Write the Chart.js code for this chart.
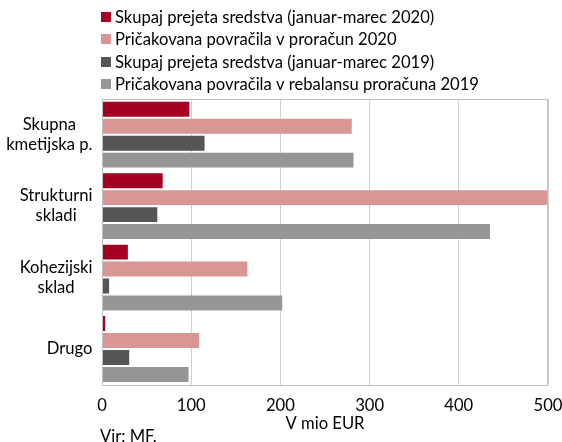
<!DOCTYPE html>
<html>
<head>
<meta charset="utf-8">
<script src="https://cdn.jsdelivr.net/npm/chart.js@4"></script>
<style>
  html, body { margin: 0; padding: 0; background: #ffffff; }
  #wrap { width: 562px; height: 442px; position: relative; }
</style>
</head>
<body>
<div id="wrap"><canvas id="c" width="562" height="442"></canvas></div>
<script>
const categories = [["Skupna", "kmetijska p."], ["Strukturni", "skladi"], ["Kohezijski", "sklad"], ["Drugo"]];
const seriesNames = [
  "Skupaj prejeta sredstva (januar-marec 2020)",
  "Pričakovana povračila v proračun 2020",
  "Skupaj prejeta sredstva (januar-marec 2019)",
  "Pričakovana povračila v rebalansu proračuna 2019"
];
const received2020 = [98, 68, 29, 3.6];
const expected2020 = [280, 500, 163, 109];
const received2019 = [115, 62, 8, 30.5];
const expected2019 = [282, 435, 202, 97];
const xMin = 0, xMax = 500, xStep = 100;
const axisTitle = "V mio EUR";
const sourceNote = "Vir: MF.";

const colors = ["#a50021", "#da9694", "#555555", "#969696"];
const FONT = "Lato, 'Liberation Sans', sans-serif";
const FS = 16.6;

const boxPlugin = {
  id: 'plotBox',
  afterDraw(chart) {
    const {ctx, chartArea: a} = chart;
    ctx.save();
    ctx.strokeStyle = '#bfbfbf';
    ctx.lineWidth = 1;
    ctx.strokeRect(Math.round(a.left) + 0.5, Math.round(a.top) + 0.5,
                   Math.round(a.right - a.left) - 1, Math.round(a.bottom - a.top));
    ctx.restore();
  }
};

const labelPlugin = {
  id: 'catLabels',
  afterDraw(chart) {
    const {ctx} = chart;
    const y = chart.scales.y;
    ctx.save();
    ctx.font = FS + 'px ' + FONT;
    ctx.fillStyle = '#000000';
    ctx.textAlign = 'center';
    ctx.textBaseline = 'middle';
    const right = 92.5;
    const lh = 20;
    chart.data.labels.forEach((lab, i) => {
      const lines = Array.isArray(lab) ? lab : [lab];
      const w = Math.max(...lines.map(l => ctx.measureText(l).width));
      const cx = right - w / 2;
      const cy = y.getPixelForTick(i);
      lines.forEach((l, k) => {
        ctx.fillText(l, cx, cy + (k - (lines.length - 1) / 2) * lh);
      });
    });
    // legend
    ctx.textAlign = 'left';
    chart.data.datasets.forEach((ds, i) => {
      const cy = 17 + i * 22.35;
      ctx.fillStyle = ds.backgroundColor;
      ctx.fillRect(101, Math.round(cy - 5), 10, 10);
      ctx.fillStyle = '#000000';
      ctx.fillText(ds.label, 115, cy + 0.5);
    });
    // source
    ctx.textBaseline = 'alphabetic';
    ctx.fillText(sourceNote, 100, 442);
    ctx.restore();
  }
};

const datasets = [received2020, expected2020, received2019, expected2019].map((d, i) => ({
  label: seriesNames[i],
  data: d,
  backgroundColor: colors[i],
  borderWidth: 0,
  categoryPercentage: 0.95,
  barPercentage: 0.88
}));

new Chart(document.getElementById('c'), {
  type: 'bar',
  data: { labels: categories, datasets },
  options: {
    indexAxis: 'y',
    responsive: false,
    devicePixelRatio: 1,
    animation: false,
    layout: { padding: { top: 99, left: 102, right: 14, bottom: 8.5 } },
    plugins: { legend: { display: false }, tooltip: { enabled: false } },
    scales: {
      x: {
        min: xMin, max: xMax,
        afterFit(scale) { scale.paddingRight = 0; scale.paddingLeft = 0; },
        ticks: { stepSize: xStep, color: '#000000', padding: 12.3,
                 font: { family: FONT, size: FS, lineHeight: 1 } },
        grid: { color: '#d0d0d0', lineWidth: 1, drawTicks: false },
        border: { display: false },
        title: { display: true, text: axisTitle, color: '#000000',
                 padding: { top: -12.3, bottom: 0 },
                 font: { family: FONT, size: FS, lineHeight: 1.2 } }
      },
      y: {
        display: false
      }
    }
  },
  plugins: [boxPlugin, labelPlugin]
});
</script>
</body>
</html>
